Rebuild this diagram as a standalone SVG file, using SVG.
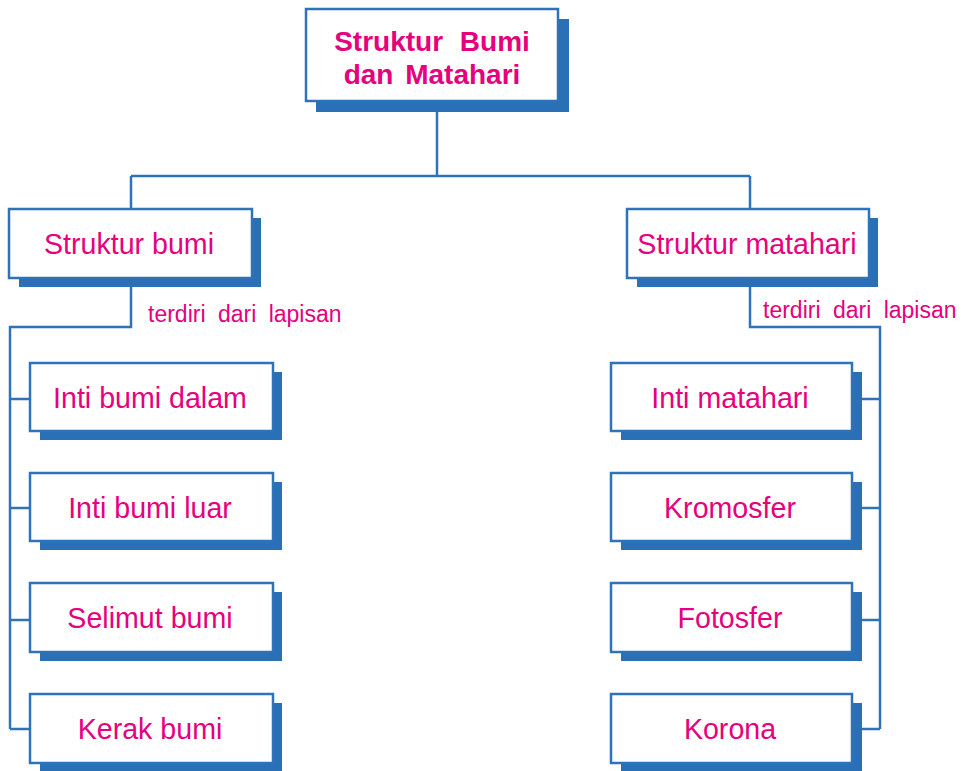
<svg xmlns="http://www.w3.org/2000/svg" width="966" height="771" viewBox="0 0 966 771">
<style>
.shadow{fill:#2970b6}
.box{fill:#ffffff;stroke:#2e73b9;stroke-width:2.5}
.t{font-family:"Liberation Sans",Arial,sans-serif;fill:#e6007e;text-anchor:middle;font-size:28.6px}
.title{font-weight:bold;font-size:28px;word-spacing:9px}
.lbl{font-family:"Liberation Sans",Arial,sans-serif;fill:#e6007e;font-size:23px;word-spacing:6px}
.c{fill:none;stroke:#2e73b9;stroke-width:2.5}
</style>
<rect width="966" height="771" fill="#ffffff"/>
<g id="connectors">
<path class="c" d="M437,101 V176 M131,176 H750 M131,176 V209 M750,176 V209"/>
<path class="c" d="M131,278 V327 H10 V729 M10,399 H30 M10,508 H30 M10,620 H30 M10,729 H30"/>
<path class="c" d="M750,278 V327 H880 V729 M862,399 H880 M862,508 H880 M862,620 H880 M862,729 H880"/>
</g>
<g id="root">
<rect class="shadow" x="316" y="19" width="253" height="93"/>
<rect class="box" x="306" y="9" width="252" height="92"/>
<text class="t title" x="432" y="51">Struktur Bumi</text>
<text class="t title" x="432" y="84" style="word-spacing:4px">dan Matahari</text>
</g>
<g id="struktur-bumi">
<rect class="shadow" x="19" y="218" width="242" height="69"/>
<rect class="box" x="9" y="209" width="243" height="69"/>
<text class="t" x="129" y="254">Struktur bumi</text>
</g>
<g id="struktur-matahari">
<rect class="shadow" x="637" y="218" width="241" height="69"/>
<rect class="box" x="627" y="209" width="242" height="69"/>
<text class="t" x="747" y="254">Struktur matahari</text>
</g>
<text class="lbl" x="148" y="322">terdiri dari lapisan</text>
<text class="lbl" x="763" y="318">terdiri dari lapisan</text>
<g id="inti-bumi-dalam">
<rect class="shadow" x="40" y="372" width="242" height="68"/>
<rect class="box" x="30" y="363" width="243" height="68"/>
<text class="t" x="150" y="408">Inti bumi dalam</text>
</g>
<g id="inti-bumi-luar">
<rect class="shadow" x="40" y="482" width="242" height="68"/>
<rect class="box" x="30" y="473" width="243" height="68"/>
<text class="t" x="150" y="518">Inti bumi luar</text>
</g>
<g id="selimut-bumi">
<rect class="shadow" x="40" y="592" width="242" height="69"/>
<rect class="box" x="30" y="583" width="243" height="69"/>
<text class="t" x="150" y="628">Selimut bumi</text>
</g>
<g id="kerak-bumi">
<rect class="shadow" x="40" y="703" width="242" height="68"/>
<rect class="box" x="30" y="694" width="243" height="69"/>
<text class="t" x="150" y="739">Kerak bumi</text>
</g>
<g id="inti-matahari">
<rect class="shadow" x="621" y="372" width="241" height="68"/>
<rect class="box" x="611" y="363" width="241" height="68"/>
<text class="t" x="730" y="408">Inti matahari</text>
</g>
<g id="kromosfer">
<rect class="shadow" x="621" y="482" width="241" height="68"/>
<rect class="box" x="611" y="473" width="241" height="68"/>
<text class="t" x="730" y="518">Kromosfer</text>
</g>
<g id="fotosfer">
<rect class="shadow" x="621" y="592" width="241" height="69"/>
<rect class="box" x="611" y="583" width="241" height="69"/>
<text class="t" x="730" y="628">Fotosfer</text>
</g>
<g id="korona">
<rect class="shadow" x="621" y="703" width="241" height="68"/>
<rect class="box" x="611" y="694" width="241" height="69"/>
<text class="t" x="730" y="739">Korona</text>
</g>
</svg>
